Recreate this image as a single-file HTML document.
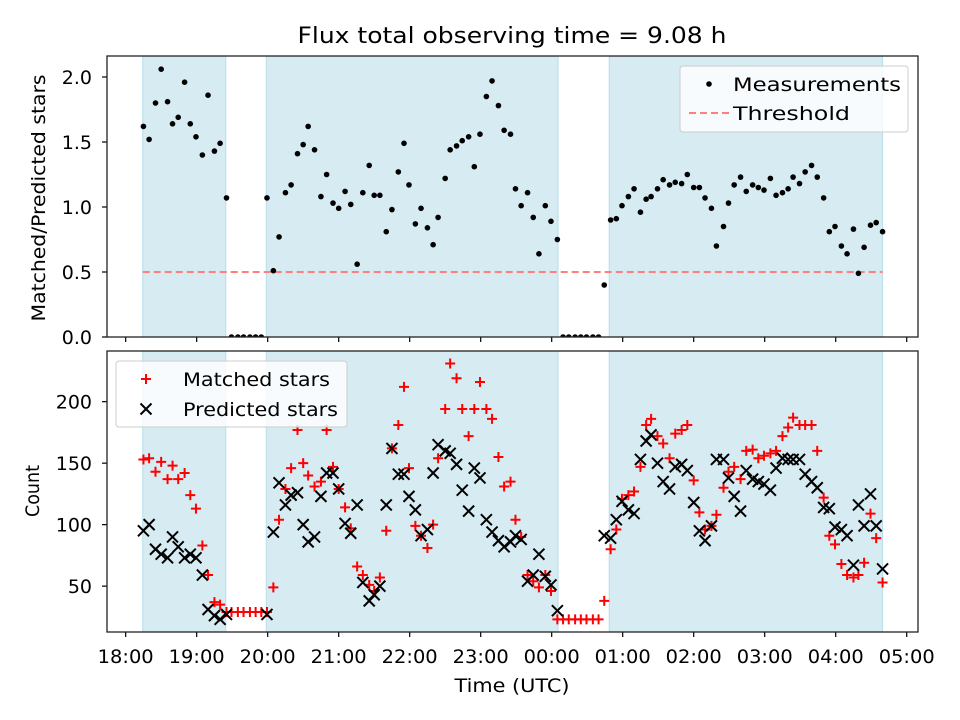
<!DOCTYPE html>
<html><head><meta charset="utf-8">
<style>
html,body{margin:0;padding:0;background:#fff;}
svg{display:block;font-family:"DejaVu Sans","Liberation Sans",sans-serif;}
</style></head>
<body>
<svg id="chart" width="960" height="720" viewBox="0 0 960 720" xmlns="http://www.w3.org/2000/svg">
<rect x="0" y="0" width="960" height="720" fill="#fff"/>
<text x="512" y="43" text-anchor="middle" font-size="22" fill="#000" textLength="429" lengthAdjust="spacingAndGlyphs">Flux total observing time = 9.08 h</text>
<defs>
<clipPath id="clipTop"><rect x="107" y="56" width="811" height="281"/></clipPath>
<clipPath id="clipBot"><rect x="107" y="351" width="811" height="281"/></clipPath>
</defs>
<g id="topPanel"></g>
<g id="botPanel"></g>
<text transform="translate(45,198) rotate(-90)" text-anchor="middle" font-size="19" textLength="247" lengthAdjust="spacingAndGlyphs">Matched/Predicted stars</text>
<text transform="translate(39,491) rotate(-90)" text-anchor="middle" font-size="19" textLength="52" lengthAdjust="spacingAndGlyphs">Count</text>
<text x="512" y="692" text-anchor="middle" font-size="19" textLength="115" lengthAdjust="spacingAndGlyphs">Time (UTC)</text>
</svg>
<script>
const times = [18.25,18.33,18.42,18.50,18.59,18.66,18.74,18.83,18.91,18.99,19.08,19.16,19.25,19.33,19.42,
19.49,19.58,19.66,19.75,19.83,19.91,
19.99,20.08,20.16,20.25,20.33,20.42,20.50,20.57,20.66,20.75,20.83,20.92,21.00,21.09,21.17,21.26,21.34,21.43,21.50,21.58,21.67,21.75,21.84,21.92,21.99,22.08,22.16,22.25,22.33,22.40,22.50,22.57,22.66,22.74,22.83,22.91,22.99,23.08,23.16,23.25,23.33,23.42,23.49,23.57,23.66,23.74,23.82,23.91,23.99,24.08,
24.16,24.24,24.33,24.41,24.49,24.58,24.66,24.74,
24.83,24.91,24.99,25.08,25.16,25.25,25.33,25.40,25.49,25.57,25.66,25.74,25.83,25.91,26.00,26.08,26.16,26.25,26.32,26.42,26.49,26.57,26.66,26.74,26.83,26.91,26.99,27.08,27.16,27.25,27.33,27.40,27.49,27.57,27.66,27.74,27.83,27.91,27.99,28.08,28.16,28.25,28.32,28.40,28.49,28.57,28.66];
const ratios = [1.62,1.52,1.80,2.06,1.81,1.64,1.69,1.96,1.64,1.54,1.40,1.86,1.43,1.49,1.07,
0,0,0,0,0,0,
1.07,0.51,0.77,1.11,1.17,1.41,1.48,1.62,1.44,1.08,1.25,1.03,0.99,1.12,1.02,0.56,1.11,1.32,1.09,1.09,0.81,0.98,1.27,1.49,1.17,0.87,0.99,0.84,0.71,0.92,1.22,1.44,1.47,1.51,1.54,1.31,1.56,1.85,1.97,1.78,1.59,1.56,1.14,1.01,1.11,0.92,0.64,1.01,0.89,0.75,
0,0,0,0,0,0,0,0.40,
0.90,0.91,1.01,1.08,1.14,0.96,1.06,1.08,1.14,1.21,1.17,1.19,1.18,1.25,1.15,1.15,1.07,0.99,0.70,0.85,1.03,1.17,1.23,1.12,1.17,1.15,1.13,1.22,1.09,1.11,1.14,1.23,1.18,1.27,1.32,1.23,1.07,0.81,0.85,0.70,0.64,0.83,0.49,0.69,0.86,0.88,0.81];
const matched = [153,154,143,151,137,148,137,142,124,113,83,59,37,35,29,
29,29,29,29,29,29,
29,49,104,129,146,177,150,140,131,135,177,147,129,114,97,66,59,51,46,57,95,162,181,212,146,99,91,81,100,154,194,231,219,194,172,194,216,194,186,155,131,135,104,90,59,54,49,59,46,23,
23,23,23,23,23,23,23,38,
80,96,121,124,127,147,181,186,172,166,154,174,177,181,136,110,96,99,108,130,143,147,137,160,161,154,156,158,160,172,179,187,181,181,181,160,122,91,84,68,59,57,59,69,109,89,53];
const predicted = [95,100,80,76,73,90,82,73,76,73,59,31,26,23,27,
null,null,null,null,null,null,
27,94,134,116,124,126,100,86,90,123,142,142,129,101,93,116,53,38,43,50,116,162,141,141,123,112,91,96,142,165,160,158,149,128,111,146,138,104,94,87,82,86,91,88,54,59,76,58,51,30,
null,null,null,null,null,null,null,91,
89,104,119,112,109,153,168,173,150,135,129,147,149,144,118,95,87,99,153,153,138,123,111,144,137,135,133,128,146,154,153,153,153,141,135,130,114,113,98,96,91,67,116,99,125,99,64];
const spanStarts = [18.24, 19.98, 24.81];
const spanEnds = [19.41, 24.09, 28.66];
const threshold = 0.5;
const topTicks = [0.0,0.5,1.0,1.5,2.0];
const topTickLabels = ["0.0","0.5","1.0","1.5","2.0"];
const botTicks = [50,100,150,200];
const botTickLabels = ["50","100","150","200"];
const xTicks = [18,19,20,21,22,23,24,25,26,27,28,29];
const xTickLabels = ["18:00","19:00","20:00","21:00","22:00","23:00","00:00","01:00","02:00","03:00","04:00","05:00"];

const NS="http://www.w3.org/2000/svg";
const X0=107, X1=918, XMIN=17.737, XMAX=29.159;
const xS = h => X0 + (h-XMIN)/(XMAX-XMIN)*(X1-X0);
const TY0=56, TY1=337, TMAX=2.1615;
const yT = v => TY1 - v/TMAX*(TY1-TY0);
const BY0=351, BY1=632, BMIN=12.7, BMAX=241.2;
const yB = v => BY1 - (v-BMIN)/(BMAX-BMIN)*(BY1-BY0);
function mk(tag, attrs, parent){const e=document.createElementNS(NS,tag);for(const k in attrs)e.setAttribute(k,attrs[k]);parent.appendChild(e);return e;}

function drawPanel(g, y0, y1, clipId, yS, ticks, labels, prefix){
  const bg=mk('g',{'clip-path':'url(#'+clipId+')'},g);
  for(let i=0;i<spanStarts.length;i++){
    const r=mk('rect',{x:xS(spanStarts[i]),y:y0,width:xS(spanEnds[i])-xS(spanStarts[i]),height:y1-y0,fill:'rgba(173,216,230,0.5)',stroke:'rgba(173,216,230,0.8)','stroke-width':1},bg);
    
    
  }
  for(let i=0;i<ticks.length;i++){
    const y=yS(ticks[i]);
    mk('line',{x1:X0-5,x2:X0,y1:y,y2:y,stroke:'#000','stroke-width':1.2},g);
    const t=mk('text',{x:X0-15,y:y+7,'text-anchor':'end','font-size':19},g);
    t.textContent=labels[i];
    
    
  }
  for(let i=0;i<xTicks.length;i++){
    const x=xS(xTicks[i]);
    mk('line',{x1:x,x2:x,y1:y1,y2:y1+5,stroke:'#000','stroke-width':1.2},g);
  }
  return bg;
}

const topG=document.getElementById('topPanel');
const tb=drawPanel(topG,TY0,TY1,'clipTop',yT,topTicks,topTickLabels,'top');
const th=mk('line',{x1:xS(spanStarts[0]),x2:xS(spanEnds[2]),y1:yT(threshold),y2:yT(threshold),stroke:'#ff7f7f','stroke-width':2,'stroke-dasharray':'7,4'},tb);


for(let i=0;i<times.length;i++){
  const c=mk('circle',{cx:xS(times[i]),cy:yT(ratios[i]),r:2.8,fill:'#000'},tb);
  
  
}
mk('rect',{x:X0,y:TY0,width:X1-X0,height:TY1-TY0,fill:'none',stroke:'#222','stroke-width':1.3},topG);

const botG=document.getElementById('botPanel');
const bb=drawPanel(botG,BY0,BY1,'clipBot',yB,botTicks,botTickLabels,'bottom');
for(let i=0;i<times.length;i++){
  const x=xS(times[i]), y=yB(matched[i]);
  const p=mk('path',{d:`M${x-5} ${y}H${x+5}M${x} ${y-5}V${y+5}`,stroke:'#ff0000','stroke-width':2,fill:'none'},bb);
  
  
}
for(let i=0;i<times.length;i++){
  if(predicted[i]===null) continue;
  const x=xS(times[i]), y=yB(predicted[i]);
  const p=mk('path',{d:`M${x-5.5} ${y-5.5}L${x+5.5} ${y+5.5}M${x-5.5} ${y+5.5}L${x+5.5} ${y-5.5}`,stroke:'#000','stroke-width':2,fill:'none'},bb);
  
  
}
mk('rect',{x:X0,y:BY0,width:X1-X0,height:BY1-BY0,fill:'none',stroke:'#222','stroke-width':1.3},botG);
for(let i=0;i<xTicks.length;i++){
  const t=mk('text',{x:xS(xTicks[i]),y:663,'text-anchor':'middle','font-size':19,textLength:56,lengthAdjust:'spacingAndGlyphs'},botG);
  t.textContent=xTickLabels[i];
  
  
}

const lg1=mk('g',{},topG);


mk('rect',{x:680,y:66,width:228,height:66,rx:3,fill:'rgba(255,255,255,0.8)',stroke:'#ccc','stroke-width':1},lg1);
mk('circle',{cx:709,cy:84,r:2.8,fill:'#000'},lg1);
const lt1=mk('text',{x:733,y:91,'font-size':19,textLength:168,lengthAdjust:'spacingAndGlyphs'},lg1); lt1.textContent='Measurements';
mk('line',{x1:689,x2:729,y1:113,y2:113,stroke:'#ff7f7f','stroke-width':2,'stroke-dasharray':'7,4'},lg1);
const lt2=mk('text',{x:733,y:120,'font-size':19,textLength:117,lengthAdjust:'spacingAndGlyphs'},lg1); lt2.textContent='Threshold';

const lg2=mk('g',{},botG);


mk('rect',{x:116,y:361,width:231,height:66,rx:3,fill:'rgba(255,255,255,0.8)',stroke:'#ccc','stroke-width':1},lg2);
mk('path',{d:'M141 379H151M146 374V384',stroke:'#ff0000','stroke-width':2},lg2);
const lt3=mk('text',{x:183,y:386,'font-size':19,textLength:147,lengthAdjust:'spacingAndGlyphs'},lg2); lt3.textContent='Matched stars';
mk('path',{d:'M140.5 403.5L151.5 414.5M140.5 414.5L151.5 403.5',stroke:'#000','stroke-width':2},lg2);
const lt4=mk('text',{x:183,y:416,'font-size':19,textLength:155,lengthAdjust:'spacingAndGlyphs'},lg2); lt4.textContent='Predicted stars';
</script>
</body></html>
